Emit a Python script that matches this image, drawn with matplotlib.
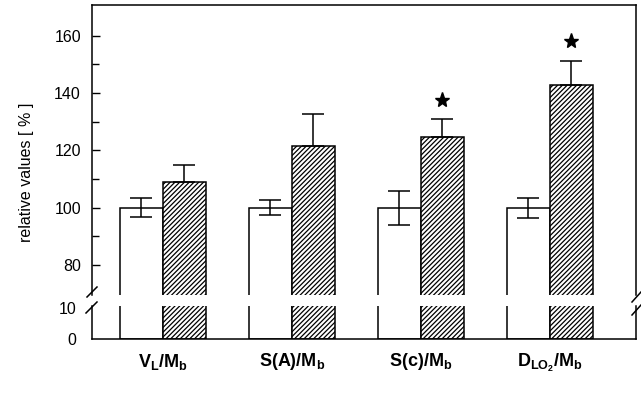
import numpy as np
import matplotlib.pyplot as plt
from matplotlib.lines import Line2D

plt.rcParams['font.family'] = ['Liberation Sans', 'DejaVu Sans']
plt.rcParams['mathtext.fontset'] = 'custom'
plt.rcParams['mathtext.rm'] = 'Liberation Sans'
plt.rcParams['mathtext.bf'] = 'Liberation Sans:bold'
plt.rcParams['hatch.linewidth'] = 0.9

# data
labels = [r'$\mathbf{V_L/M_b}$', r'$\mathbf{S(A)/M_b}$', r'$\mathbf{S(c)/M_b}$',
          r'$\mathbf{D_{LO_2}/M_b}$']
control = [100, 100, 100, 100]
control_err = [3.2, 2.6, 5.9, 3.5]
treated = [109, 121.5, 124.5, 142.7]
treated_err = [6, 11, 6.3, 8.5]
star_y = [None, None, 137.6, 158]

W, H = 641, 393
fig = plt.figure(figsize=(W / 100, H / 100), dpi=100)

def frac(x0, y0, x1, y1):
    return [x0 / W, 1 - y1 / H, (x1 - x0) / W, (y1 - y0) / H]

ax_top = fig.add_axes(frac(92, 5, 636, 295))
ax_bot = fig.add_axes(frac(92, 306, 636, 339))

x = np.arange(len(labels))
w = 0.333

for ax in (ax_top, ax_bot):
    ax.bar(x - w / 2, control, w, color='white', edgecolor='black', linewidth=1.1)
    ax.bar(x + w / 2, treated, w, color='white', edgecolor='black', linewidth=1.1,
           hatch='///////')
    ax.set_xlim(-0.55, 3.667)
    for s in ax.spines.values():
        s.set_linewidth(1.1)

ax_top.errorbar(x - w / 2, control, yerr=control_err, fmt='none', ecolor='black',
                elinewidth=1.1, capsize=8, capthick=1.1)
ax_top.errorbar(x + w / 2, treated, yerr=[[0] * 4, treated_err], fmt='none',
                ecolor='black', elinewidth=1.1, capsize=8, capthick=1.1)
for xi, sy in zip(x, star_y):
    if sy is not None:
        ax_top.plot(xi + w / 2, sy, marker='*', color='black', markersize=11)

ax_top.set_ylim(69.5, 170.7)
ax_top.set_yticks([80, 100, 120, 140, 160])
ax_top.set_yticks([90, 110, 130, 150], minor=True)
ax_top.tick_params(axis='y', which='major', direction='in', length=6, width=1,
                   labelsize=11.5, pad=8)
ax_top.tick_params(axis='y', which='minor', direction='in', length=5, width=1)
ax_top.set_xticks([])
ax_top.spines['bottom'].set_visible(False)

ax_bot.set_ylim(0, 10.65)
ax_bot.set_yticks([0, 10])
ax_bot.tick_params(axis='y', length=0, labelsize=11.5, pad=11)
ax_bot.spines['top'].set_visible(False)
ax_bot.set_xticks(x)
ax_bot.set_xticklabels(labels, fontsize=13)
ax_bot.tick_params(axis='x', length=0, pad=9)

fig.text(26 / W, 1 - 172 / H, 'relative values [ % ]', rotation=90,
         ha='center', va='center', fontsize=11.5)

# break marks
for (x0, y0, x1, y1) in [(87, 297, 97, 287), (86, 313, 97, 302),
                         (632, 302, 641, 292), (632, 315, 641, 305)]:
    fig.add_artist(Line2D([x0 / W, x1 / W], [1 - y0 / H, 1 - y1 / H],
                          color='black', linewidth=1.1))

plt.savefig('out.png', dpi=100)
